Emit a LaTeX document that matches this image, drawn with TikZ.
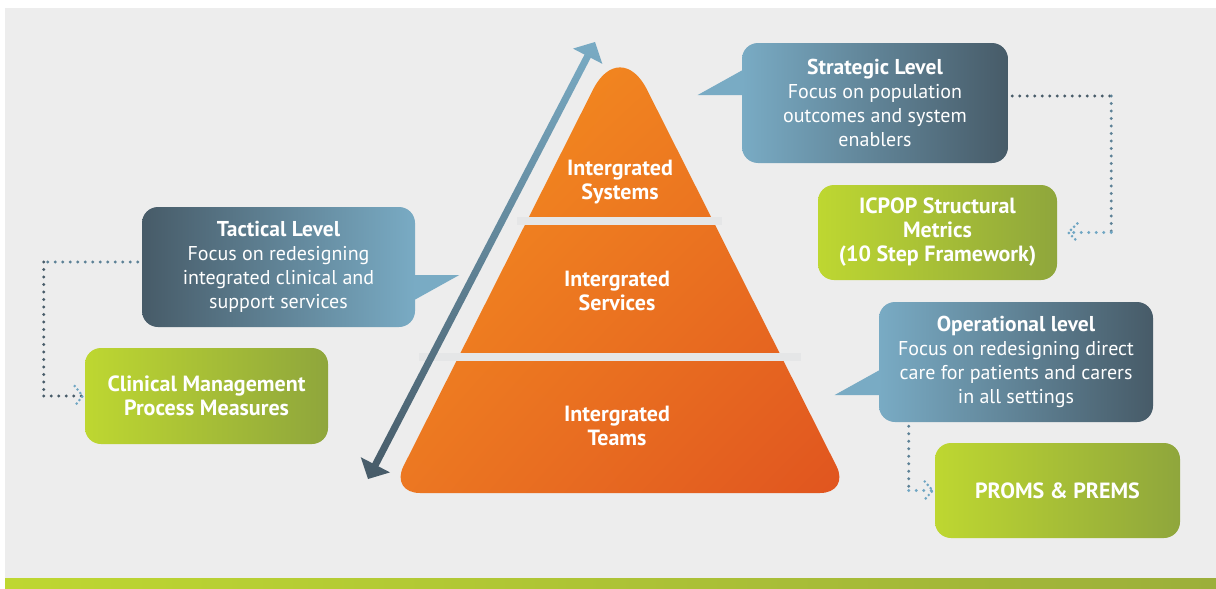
\documentclass[tikz,border=0pt]{standalone}
\usepackage{fontspec}
\setmainfont{PT Sans}
\usetikzlibrary{calc, shadings}
\definecolor{bggray}{HTML}{EDEDED}
\definecolor{bandgray}{HTML}{E5E6E7}
\definecolor{slatedark}{HTML}{475B68}
\definecolor{skylight}{HTML}{79ABC4}
\definecolor{dotmid}{HTML}{5C8196}
\definecolor{dotlight}{HTML}{6FA6C3}
\definecolor{boxlime}{HTML}{BED731}
\definecolor{boxolive}{HTML}{8FA63C}
\definecolor{barolive}{HTML}{9CAF3A}
\definecolor{pyrtop}{HTML}{F7941D}
\definecolor{pyrmid}{HTML}{EC7822}
\definecolor{pyrbot}{HTML}{E0541F}

\begin{document}
\begin{tikzpicture}[x=1pt, y=-1pt, semithick]
\tikzstyle{callout}=[rounded corners=16pt, text=white, align=center, font=\fontsize{20}{24}\selectfont, inner sep=0pt]
\tikzstyle{slateleft}=[callout, left color=slatedark, right color=skylight]
\tikzstyle{slateright}=[callout, left color=skylight, right color=slatedark]
\tikzstyle{greenbox}=[callout, left color=boxlime, right color=boxolive, font=\fontsize{22}{24}\selectfont\bfseries]
\tikzstyle{level}=[text=white, align=center, font=\fontsize{22}{24}\selectfont\bfseries]
\tikzstyle{dotline}=[line width=3.2pt, line cap=round, dash pattern=on 0pt off 7.5pt]
\tikzstyle{chevdots}=[line width=2.9pt, line cap=round, dash pattern=on 0pt off 4.5pt]

\useasboundingbox (0,0) rectangle (1216,589);
\fill[bggray] (5,8) rectangle (1216,578);
\shade[left color=boxlime, right color=barolive] (5,578) rectangle (1216,589);

% pyramid and its bands
\shade[upper left=pyrtop, upper right=pyrmid, lower left=pyrmid, lower right=pyrbot]
  (505,264.5) [rounded corners=60pt] -- (620,36) -- (735,264.5)
  [rounded corners=30pt] -- (850,493) -- (390,493) -- cycle;
\fill[bandgray] (517,217) rectangle (722,225);
\fill[bandgray] (419,353) rectangle (801,361);

\node[level] (SY) at (620,182) {Intergrated\\Systems};
\node[level] (SE) at (617,291) {Intergrated\\Services};
\node[level] (TE) at (617,426) {Intergrated\\Teams};

% double arrow beside the pyramid
\coordinate (arrB) at (368,479);
\coordinate (arrT) at (595,42);
\coordinate (hb) at ($(arrB)!16pt!(arrT)$);
\coordinate (ht) at ($(arrT)!16pt!(arrB)$);
\shade[top color=skylight, bottom color=slatedark]
  (arrB) -- ($(hb)!16.5pt!-90:(arrT)$) -- ($(hb)!3.5pt!-90:(arrT)$)
  -- ($(ht)!3.5pt!90:(arrB)$) -- ($(ht)!16.5pt!90:(arrB)$) -- (arrT)
  -- ($(ht)!16.5pt!-90:(arrB)$) -- ($(ht)!3.5pt!-90:(arrB)$)
  -- ($(hb)!3.5pt!90:(arrT)$) -- ($(hb)!16.5pt!90:(arrT)$) -- cycle;

% levels
\node[slateleft, minimum width=273pt, minimum height=120pt] (TL) at (278.5,267)
  {\textbf{\fontsize{21.5}{24}\selectfont Tactical Level}\\Focus on redesigning\\integrated clinical and\\support services};
\fill[skylight] ($(TL.east)+(-1,8)$) -- ($(TL.east)+(44,8)$) -- ($(TL.east)+(-1,33)$) -- cycle;

\node[slateright, minimum width=266pt, minimum height=120pt] (SL) at (875,103)
  {\textbf{\fontsize{21.5}{24}\selectfont Strategic Level}\\Focus on population\\outcomes and system\\enablers};
\fill[skylight] ($(SL.west)+(1,-33)$) -- ($(SL.west)+(-44,-8)$) -- ($(SL.west)+(1,-8)$) -- cycle;

\node[slateright, minimum width=274pt, minimum height=120pt] (OL) at (1016,362)
  {\textbf{\fontsize{21.5}{24}\selectfont Operational level}\\Focus on redesigning direct\\care for patients and carers\\in all settings};
\fill[skylight] ($(OL.west)+(1,8)$) -- ($(OL.west)+(-44,33)$) -- ($(OL.west)+(1,33)$) -- cycle;

% measures
\node[greenbox, minimum width=243pt, minimum height=96pt] (CM) at (206.5,396) {Clinical Management\\Process Measures};
\node[greenbox, minimum width=239pt, minimum height=95pt] (IS) at (937.5,232.5) {ICPOP Structural\\Metrics\\(10 Step Framework)};
\node[greenbox, minimum width=245pt, minimum height=95pt] (PP) at (1057.5,490.5) {PROMS \& PREMS};

% dotted links
\coordinate (TLc) at ($(TL.west)+(-98,-5)$);
\coordinate (CMe) at ($(CM.west)+(-2,0)$);
\draw[dotline, dotmid] ($(TL.west)+(-4,-5)$) -- (TLc);
\draw[dotline, slatedark] (TLc) -- (TLc |- CM.west);
\draw[dotline, slatedark] (TLc |- CM.west) -- (CMe);
\draw[chevdots, dotlight] ($(CMe)+(-8,-10)$) -- (CMe) -- ($(CMe)+(-8,10)$);

\coordinate (SLc) at ($(SL.east)+(103,-7)$);
\coordinate (ISe) at ($(IS.east)+(11,0)$);
\draw[dotline, slatedark] ($(SL.east)+(4,-7)$) -- (SLc);
\draw[dotline, dotmid] (SLc) -- (SLc |- IS.east);
\draw[dotline, dotlight] (SLc |- IS.east) -- (ISe);
\draw[chevdots, dotlight] ($(ISe)+(9,-9)$) -- (ISe) -- ($(ISe)+(9,9)$);

\coordinate (OLs) at ($(OL.south west)+(30,4)$);
\coordinate (PPe) at ($(PP.west)+(-2,0)$);
\draw[dotline, dotmid] (OLs) -- (OLs |- PP.west);
\draw[dotline, dotlight] (OLs |- PP.west) -- (PPe);
\draw[chevdots, dotlight] ($(PPe)+(-8,-9)$) -- (PPe) -- ($(PPe)+(-8,9)$);
\end{tikzpicture}
\end{document}
